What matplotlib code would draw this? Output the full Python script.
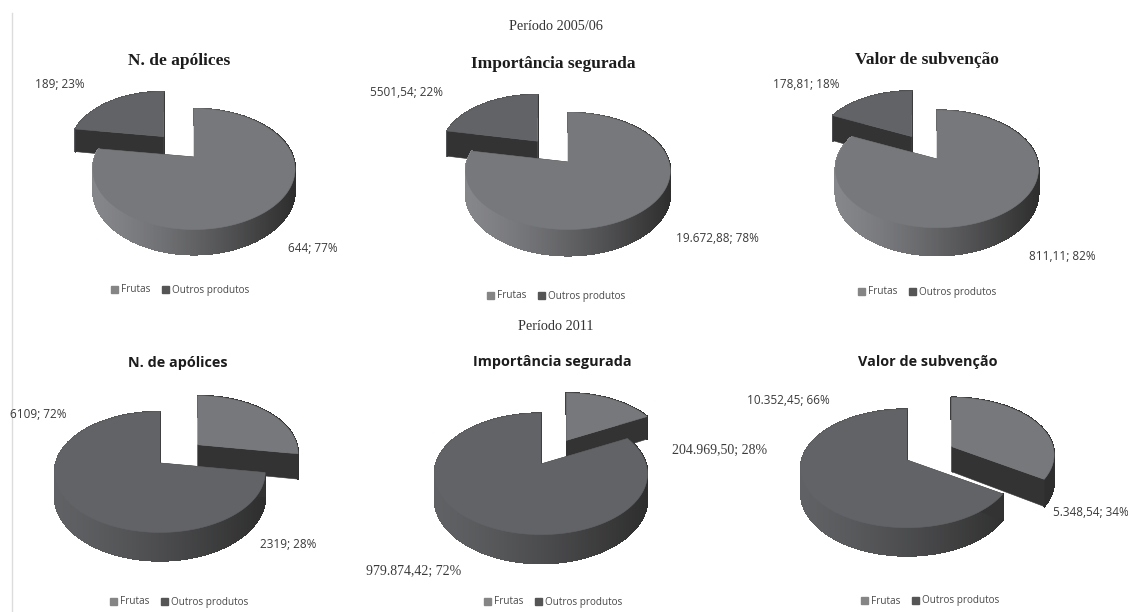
import matplotlib
matplotlib.use('Agg')
import matplotlib.pyplot as plt
import numpy as np
from matplotlib.collections import PolyCollection
from matplotlib.colors import to_rgb
from matplotlib.legend import Legend
from matplotlib.patches import Patch

# values per panel: 2005/06 first, then 2011
titles = ['N. de apólices', 'Importância segurada', 'Valor de subvenção',
          'N. de apólices', 'Importância segurada', 'Valor de subvenção']
periods = ['Período 2005/06', 'Período 2011']
series_names = ['Frutas', 'Outros produtos']
frutas = [644, 19672.88, 811.11, 2319, 204969.50, 5348.54]
outros = [189, 5501.54, 178.81, 6109, 979874.42, 10352.45]
frutas_labels = ['644; 77%', '19.672,88; 78%', '811,11; 82%',
                 '2319; 28%', '204.969,50; 28%', '5.348,54; 34%']
outros_labels = ['189; 23%', '5501,54; 22%', '178,81; 18%',
                 '6109; 72%', '979.874,42; 72%', '10.352,45; 66%']
exploded = [1, 1, 1, 0, 0, 0]

# pie geometry in pixels: centre x, centre y, rx, ry, perspective, depth
geometry = [(194, 157, 99, 58, 0.20, 20),
            (568, 162, 101, 57, 0.155, 22),
            (937, 159, 100, 57, 0.17, 23),
            (160, 463, 104, 59, 0.15, 24),
            (541, 464, 105, 59, 0.164, 24),
            (907, 460, 105, 58, 0.143, 24)]
title_pos = [(179, 61), (553, 64), (927, 60), (178, 363), (552, 362), (928, 362)]
legend_pos = [(180, 290), (556, 296), (927, 292), (179, 602), (553, 602), (930, 601)]
frutas_pos = [(313, 249), (717, 238), (1062, 256), (288, 544), (720, 450), (1091, 513)]
outros_pos = [(60, 84), (407, 93), (806, 84), (38, 414), (414, 571), (788, 401)]
period_pos = [(556, 27), (556, 327)]

LIGHT = '#77787b'
DARK = '#626366'
CUT = '#333333'
SERIF = 'Liberation Serif'
SANS = 'Open Sans'


def project(x, y, z, geo, ox=0.0, oy=0.0):
    # perspective around the slice's own apex, which itself sits at (ox, oy)
    cx, cy, rx, ry, k, depth = geo
    d0 = 1 + k * oy
    px, py = cx + rx * ox / d0, cy - ry * oy / d0
    d = (1 + k * y) * d0
    return px + rx * x / d, py + (-ry * y + z * depth) / d


def mix(a, b, t):
    a, b = np.array(to_rgb(a)), np.array(to_rgb(b))
    return tuple(a + (b - a) * t)


def draw_slice(ax, start, end, color, side_left, geo, offset=0.0, thick=1.0):
    # start and end in degrees, clockwise from 12 o'clock
    mid = np.radians((start + end) / 2)
    ox, oy = offset * np.sin(mid), offset * np.cos(mid)
    t = np.radians(np.linspace(start, end, 361))
    xs, ys = np.sin(t), np.cos(t)
    top = np.column_stack(project(xs, ys, 0, geo, ox, oy))
    low = np.column_stack(project(xs, ys, thick, geo, ox, oy))
    apex_top = project(0, 0, 0, geo, ox, oy)
    apex_low = project(0, 0, thick, geo, ox, oy)

    # outer wall, shaded from left to right
    quads, colors = [], []
    x0, x1 = geo[0] - geo[2], geo[0] + geo[2]
    for i in range(len(t) - 1):
        quads.append([top[i], top[i + 1], low[i + 1], low[i]])
        f = np.clip((top[i][0] - x0) / (x1 - x0), 0, 1)
        colors.append(mix(side_left, '#2e2e2e', f ** 1.3))
    ax.add_collection(PolyCollection(quads, facecolors=colors, edgecolors=colors,
                                     linewidths=0.8, antialiaseds=False))

    # flat cut faces
    for rim_t, rim_l in ((top[0], low[0]), (top[-1], low[-1])):
        ax.fill([apex_top[0], rim_t[0], rim_l[0], apex_low[0]],
                [apex_top[1], rim_t[1], rim_l[1], apex_low[1]], color=CUT, lw=0.4)

    outline = np.vstack([apex_top, top])
    ax.fill(outline[:, 0], outline[:, 1], color=color, lw=0.4)


fig = plt.figure(figsize=(11.28, 6.12), dpi=100)
ax = fig.add_axes([0, 0, 1, 1])
ax.set_xlim(0, 1128)
ax.set_ylim(612, 0)
ax.axis('off')

ax.plot([11.5, 11.5], [13, 612], color='#dcdcdc', lw=1)

for i in range(6):
    total = frutas[i] + outros[i]
    split = 360 * frutas[i] / total
    if exploded[i] == 1:
        draw_slice(ax, split, 360, DARK, '#5a5b5e', geometry[i], offset=0.5, thick=1.25)
        draw_slice(ax, 0, split, LIGHT, '#85868a', geometry[i])
    else:
        draw_slice(ax, 0, split, LIGHT, '#55565a', geometry[i], offset=0.5, thick=1.08)
        draw_slice(ax, split, 360, DARK, '#606164', geometry[i])

    top_row = i < 3
    ax.text(*title_pos[i], titles[i], ha='center', va='center', fontweight='bold',
            fontsize=12.5 if top_row else 10.4, color='#1c1c1c',
            family=SERIF if top_row else SANS)

    value_font = SERIF if i == 4 else SANS
    value_size = 10 if i == 4 else 8.5
    ax.text(*frutas_pos[i], frutas_labels[i], ha='center', va='center',
            fontsize=value_size, color='#3a3a3a', family=value_font)
    ax.text(*outros_pos[i], outros_labels[i], ha='center', va='center',
            fontsize=value_size, color='#3a3a3a', family=value_font)

    handles = [Patch(color='#858585'), Patch(color='#555555')]
    leg = Legend(ax, handles, series_names, loc='center', ncol=2, frameon=False,
                 bbox_to_anchor=legend_pos[i], bbox_transform=ax.transData,
                 prop={'family': SANS, 'size': 7.2}, labelcolor='#4a4a4a',
                 handlelength=0.7, handleheight=0.7, handletextpad=0.3,
                 columnspacing=1.1, borderpad=0)
    ax.add_artist(leg)

for pos, text in zip(period_pos, periods):
    ax.text(*pos, text, ha='center', va='center', fontsize=10.3, color='#333333', family=SERIF)

plt.savefig('out.png', dpi=100)
